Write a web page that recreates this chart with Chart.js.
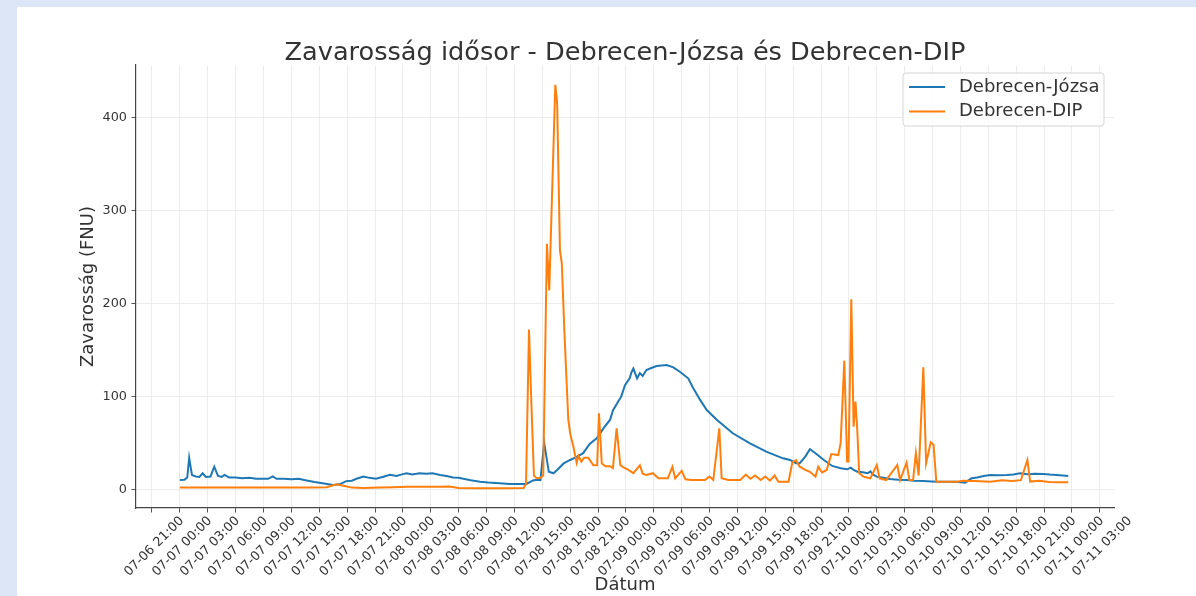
<!DOCTYPE html>
<html>
<head>
<meta charset="utf-8">
<script src="https://cdn.jsdelivr.net/npm/chart.js@4.4.1/dist/chart.umd.min.js"></script>
<style>
  html, body { margin: 0; padding: 0; background: #dce6f6; }
  #panel { position: absolute; left: 17px; top: 7px; width: 1179px; height: 589px; background: #fff; }
  #wrap { position: absolute; left: 0; top: 0; width: 1196px; height: 596px; }
</style>
</head>
<body>
<div id="panel"></div>
<div id="wrap"><canvas id="chart" width="1196" height="596"></canvas></div>
<script>
// hours counted from 07-06 21:00
const chartTitle = 'Zavarosság idősor - Debrecen-Józsa és Debrecen-DIP'
const seriesNames = ['Debrecen-Józsa', 'Debrecen-DIP']

const tickHours = [0, 3, 6, 9, 12, 15, 18, 21, 24, 27, 30, 33, 36, 39, 42, 45, 48, 51, 54, 57, 60,
    63, 66, 69, 72, 75, 78, 81, 84, 87, 90, 93, 96, 99, 102]
const tickLabels = [
    '07-06 21:00', '07-07 00:00', '07-07 03:00', '07-07 06:00', '07-07 09:00', '07-07 12:00',
    '07-07 15:00', '07-07 18:00', '07-07 21:00', '07-08 00:00', '07-08 03:00', '07-08 06:00',
    '07-08 09:00', '07-08 12:00', '07-08 15:00', '07-08 18:00', '07-08 21:00', '07-09 00:00',
    '07-09 03:00', '07-09 06:00', '07-09 09:00', '07-09 12:00', '07-09 15:00', '07-09 18:00',
    '07-09 21:00', '07-10 00:00', '07-10 03:00', '07-10 06:00', '07-10 09:00', '07-10 12:00',
    '07-10 15:00', '07-10 18:00', '07-10 21:00', '07-11 00:00', '07-11 03:00'
]
const yTicks = [0, 100, 200, 300, 400]

const joszaHours = [3.0, 3.5, 3.8, 4.0, 4.3, 4.7, 5.1, 5.45, 5.8, 6.3, 6.7, 7.1, 7.5, 7.8, 8.3, 9.0,
    9.7, 10.5, 11.2, 12.0, 12.5, 13.0, 13.4, 14.2, 15.0, 15.8, 16.5, 17.5, 18.5, 19.5, 20.2, 20.9,
    21.5, 22.0, 22.75, 23.4, 24.1, 24.8, 25.6, 26.3, 27.0, 27.4, 28.0, 28.8, 29.5, 30.2, 31.0, 31.7,
    32.4, 33.0, 33.5, 34.3, 35.3, 36.2, 37.4, 38.5, 39.5, 40.3, 41.0, 41.4, 41.8, 42.2, 42.7, 43.2,
    43.6, 44.3, 45.0, 45.7, 46.4, 47.1, 47.85, 48.6, 49.3, 49.6, 50.2, 50.5, 50.9, 51.4, 51.6, 51.8,
    52.2, 52.5, 52.8, 53.2, 53.6, 54.3, 55.4, 56.1, 56.8, 57.7, 58.25, 59.0, 59.7, 60.8, 62.5, 64.35,
    66.1, 67.9, 68.65, 69.3, 69.7, 70.3, 70.8, 71.4, 72.3, 73.2, 74.1, 74.8, 75.2, 75.5, 75.9, 76.5,
    77.0, 77.3, 77.6, 78.0, 78.7, 79.4, 80.3, 81.2, 82.0, 83.0, 84.4, 85.5, 86.6, 87.5, 88.2, 88.8,
    89.5, 90.2, 91.0, 92.0, 92.7, 93.4, 94.2, 95.0, 95.9, 96.6, 97.35, 98.0, 98.6]
const joszaValues = [10.2, 10.5, 13, 34, 15.6, 14, 13.5, 17.4, 13.5, 14, 24.5, 14.5, 13.5, 15.6, 13, 13,
    12, 12.5, 11.5, 11.5, 11.5, 14, 11.5, 11.5, 11, 11.5, 10, 8, 6.5, 4.8, 5.5, 9,
    9.5, 11.5, 14, 12.5, 11.5, 13.5, 15.8, 14.5, 16.5, 17.4, 16, 17.4, 17, 17.4, 15.5, 14.5,
    13, 12.5, 11.5, 10, 8.4, 7.5, 6.6, 6, 6, 5.9, 9.7, 10.5, 10, 50.5, 19, 17.4,
    21, 28, 31.7, 35, 39, 49, 55, 66, 75, 85, 95, 100, 112, 119.5, 126, 130,
    119.5, 125, 122, 128.4, 130, 132.7, 133.8, 131.3, 126.6, 119.5, 108.8, 96, 85.4, 74.7, 60.4, 49.6,
    40.6, 33.5, 31.7, 28.2, 28.2, 35.3, 43.2, 39, 31.7, 25.3, 22.8, 21.7, 23.5, 21, 19.1, 18.5,
    17.4, 19.5, 16, 13.8, 12.5, 11.3, 10.5, 10.2, 9.5, 9, 8.4, 8.2, 8.4, 7.3, 12, 12.8,
    14.5, 15.6, 15.4, 15.6, 16.2, 17.4, 16.5, 17, 16.7, 16, 15.6, 15, 14.5]

const dipHours = [3.0, 6, 10, 14, 17, 18.8, 19.5, 19.9, 20.6, 21.5, 22.7, 24.5, 26, 27.4, 29, 31,
    32, 33, 35, 38, 40.0, 40.25, 40.57, 40.8, 41.1, 41.4, 41.8, 42.1, 42.5, 42.75, 43.0, 43.4,
    43.6, 43.9, 44.1, 44.4, 44.8, 45.0, 45.35, 45.7, 45.9, 46.2, 46.5, 46.95, 47.5, 47.9, 48.1, 48.4,
    48.8, 49.3, 49.6, 50.0, 50.4, 50.7, 51.1, 51.8, 52.5, 52.8, 53.2, 53.9, 54.5, 55.5, 56.0, 56.3,
    57.0, 57.4, 58, 59.5, 60.0, 60.4, 61.05, 61.3, 62, 63.3, 63.9, 64.4, 64.9, 65.5, 66.0, 66.5,
    67.0, 67.4, 68.5, 68.9, 69.3, 69.7, 70.3, 70.8, 71.4, 71.7, 72.1, 72.6, 73.1, 73.85, 74.1, 74.5,
    74.8, 74.95, 75.25, 75.5, 75.7, 75.9, 76.1, 76.55, 77.3, 78.0, 78.3, 79, 80.2, 80.5, 81.2, 81.5,
    81.9, 82.2, 82.5, 83.0, 83.3, 83.8, 84.1, 84.4, 86.6, 87.3, 88.5, 90.2, 91.5, 92.5, 93.5, 94.2,
    94.5, 95.5, 96.5, 97.5, 98.6]
const dipValues = [2, 2, 2, 2, 2, 2.5, 4.5, 5.6, 4, 2, 1.5, 2, 2.5, 3, 3, 3,
    3.2, 1.5, 1.3, 1.3, 1.5, 5.9, 172, 100, 15, 12, 12.5, 15, 264, 214, 300, 435,
    415, 257, 243, 164, 75, 60, 46, 28.5, 36, 30, 34, 34, 26, 26, 82, 28,
    25, 25, 22.8, 65.7, 26, 24, 22, 17.5, 26, 17, 15.6, 17.5, 12, 12, 24.5, 12,
    20, 11, 10.2, 10.2, 14, 10.2, 65.7, 12, 10.2, 10.2, 16, 11.5, 15, 10.2, 14, 9.5,
    15, 8.4, 8.4, 29, 31.5, 24.5, 21, 19, 13.8, 24.5, 18.3, 21, 38, 37, 49.6, 138.5,
    30, 30, 204.4, 67.5, 94.4, 63, 17.4, 13.8, 12, 26.3, 12, 10.2, 26.3, 10.2, 28.8, 10.2,
    10, 39, 15, 131.3, 28.2, 50.7, 48, 8.4, 8.4, 9.5, 9, 8.4, 10, 9, 10, 31.7,
    8.5, 9.5, 8, 7.7, 7.7]

const colors = ['#1f77b4', '#ff7f0e']
const font = '"DejaVu Sans", sans-serif'

const titlePlugin = {
    id: 'plotTitle',
    afterDraw(chart) {
        const { ctx, chartArea } = chart
        ctx.save()
        ctx.font = '25.6px ' + font
        ctx.fillStyle = '#333'
        ctx.textAlign = 'center'
        ctx.textBaseline = 'alphabetic'
        ctx.fillText(chartTitle, (chartArea.left + chartArea.right) / 2, chartArea.top - 5)
        ctx.restore()
    }
}

// matplotlib-like legend box in the upper right of the plot
const legendPlugin = {
    id: 'boxLegend',
    afterDraw(chart) {
        const { ctx, chartArea } = chart
        const w = 201, h = 53
        const x = chartArea.right - 10 - w
        const y = chartArea.top + 8
        ctx.save()
        ctx.beginPath()
        ctx.roundRect(x, y, w, h, 3)
        ctx.fillStyle = 'rgba(255,255,255,0.85)'
        ctx.fill()
        ctx.strokeStyle = '#d5d5d5'
        ctx.lineWidth = 1
        ctx.stroke()
        ctx.font = '18px ' + font
        ctx.textBaseline = 'middle'
        ctx.textAlign = 'left'
        chart.data.datasets.forEach((ds, i) => {
            const ly = y + 14 + i * 24.5
            ctx.strokeStyle = ds.borderColor
            ctx.lineWidth = 2
            ctx.beginPath()
            ctx.moveTo(x + 6, ly)
            ctx.lineTo(x + 42, ly)
            ctx.stroke()
            ctx.fillStyle = '#333'
            ctx.fillText(ds.label, x + 56, ly)
        })
        ctx.restore()
    }
}

const toPoints = (hours, values) => hours.map((h, i) => ({ x: h, y: values[i] }))

const ctx = document.getElementById('chart').getContext('2d')
window.myChart = new Chart(ctx, {
    type: 'line',
    data: {
        datasets: [
            {
                label: seriesNames[0],
                data: toPoints(joszaHours, joszaValues),
                borderColor: colors[0],
                borderWidth: 2,
                pointRadius: 0,
                tension: 0,
                order: 1
            },
            {
                label: seriesNames[1],
                data: toPoints(dipHours, dipValues),
                borderColor: colors[1],
                borderWidth: 2,
                pointRadius: 0,
                tension: 0,
                order: 0
            }
        ]
    },
    options: {
        responsive: false,
        animation: false,
        layout: { padding: { left: 78, top: 65, right: 82, bottom: 0 } },
        plugins: {
            legend: { display: false },
            title: { display: false },
            tooltip: { enabled: false }
        },
        scales: {
            x: {
                type: 'linear',
                min: -1.72,
                max: 103.52,
                afterBuildTicks: axis => { axis.ticks = tickHours.map(v => ({ value: v })) },
                afterFit: scale => { scale.height = 88 },
                ticks: {
                    autoSkip: false,
                    minRotation: 45,
                    maxRotation: 45,
                    labelOffset: 30,
                    padding: 1,
                    color: '#333',
                    font: { family: font, size: 12.8 },
                    callback: (value, index) => tickLabels[index]
                },
                grid: { color: '#ececec', lineWidth: 1, tickLength: 4.5, tickColor: '#555' },
                border: { color: '#444', width: 1.2 },
                title: {
                    display: true,
                    text: 'Dátum',
                    color: '#333',
                    padding: 0,
                    font: { family: font, size: 18 }
                }
            },
            y: {
                min: -19.9,
                max: 456.2,
                afterBuildTicks: axis => { axis.ticks = yTicks.map(v => ({ value: v })) },
                afterFit: scale => { scale.width = 58 },
                ticks: {
                    padding: 4.5,
                    color: '#333',
                    font: { family: font, size: 12.8 }
                },
                grid: { color: '#ececec', lineWidth: 1, tickLength: 4.5, tickColor: '#555' },
                border: { color: '#444', width: 1.2 },
                title: {
                    display: true,
                    text: 'Zavarosság (FNU)',
                    color: '#333',
                    padding: 0,
                    font: { family: font, size: 18 }
                }
            }
        }
    },
    plugins: [titlePlugin, legendPlugin]
})
</script>
</body>
</html>
